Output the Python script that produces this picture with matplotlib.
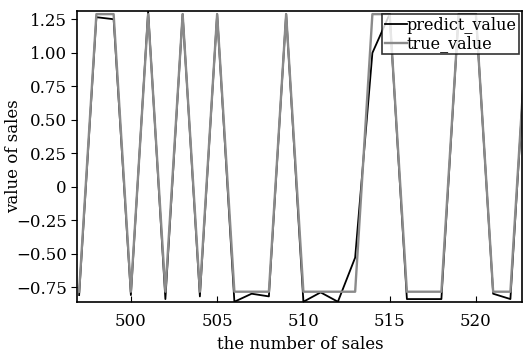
import matplotlib
matplotlib.use("Agg")
import matplotlib.pyplot as plt
from matplotlib.ticker import FixedLocator, FixedFormatter

x_values = list(range(497, 524))
true_value = [-0.785, 1.29, 1.29, -0.785, 1.29, -0.785, 1.29, -0.785, 1.29,
              -0.785, -0.785, -0.785, 1.29, -0.785, -0.785, -0.785, -0.785,
              1.29, 1.29, -0.785, -0.785, -0.785, 1.29, 1.29, -0.785, -0.785, 1.29]
predict_value = [-0.81, 1.267, 1.252, -0.81, 1.31, -0.84, 1.29, -0.82, 1.29,
                 -0.86, -0.80, -0.82, 1.29, -0.86, -0.79, -0.86, -0.53,
                 1.00, 1.29, -0.84, -0.84, -0.84, 1.29, 1.29, -0.80, -0.84, 1.29]
y_ticks = [-0.75, -0.5, -0.25, 0, 0.25, 0.5, 0.75, 1.0, 1.25]
y_tick_labels = ["\u22120.75", "\u22120.50", "\u22120.25", "0", "0.25", "0.50", "0.75", "1.00", "1.25"]
x_ticks = [500, 505, 510, 515, 520]
x_tick_labels = ["500", "505", "510", "515", "520"]

plt.rcParams['font.family'] = ['DejaVu Serif']

fig = plt.figure(figsize=(5.23, 3.52), dpi=100)
ax = fig.add_axes([0.148, 0.142, 0.851, 0.827])

ax.plot(x_values, predict_value, color="black", lw=1.3, label="predict_value")
ax.plot(x_values, true_value, color="#8a8a8a", lw=1.7, label="true_value")

ax.set_xlim(496.9, 522.7)
ax.set_ylim(-0.862, 1.314)
ax.yaxis.set_major_locator(FixedLocator(y_ticks))
ax.yaxis.set_major_formatter(FixedFormatter(y_tick_labels))
ax.xaxis.set_major_locator(FixedLocator(x_ticks))
ax.xaxis.set_major_formatter(FixedFormatter(x_tick_labels))
ax.tick_params(axis="y", direction="out", labelsize=12, length=4)
ax.tick_params(axis="x", direction="in", labelsize=12, length=4, pad=8)
for s in ax.spines.values():
    s.set_linewidth(1.2)

ax.set_xlabel("the number of sales", fontsize=12, labelpad=4)
ax.set_ylabel("value of sales", fontsize=12)
ax.yaxis.set_label_coords(-0.125, 0.5)

leg = ax.legend(loc="upper right", fontsize=11.5, frameon=True, fancybox=False,
                edgecolor="black", handlelength=1.4, handletextpad=0.0,
                borderpad=0.15, borderaxespad=0.2, labelspacing=0.1)
leg.get_frame().set_linewidth(1.2)

fig.savefig("out.png", dpi=100)
